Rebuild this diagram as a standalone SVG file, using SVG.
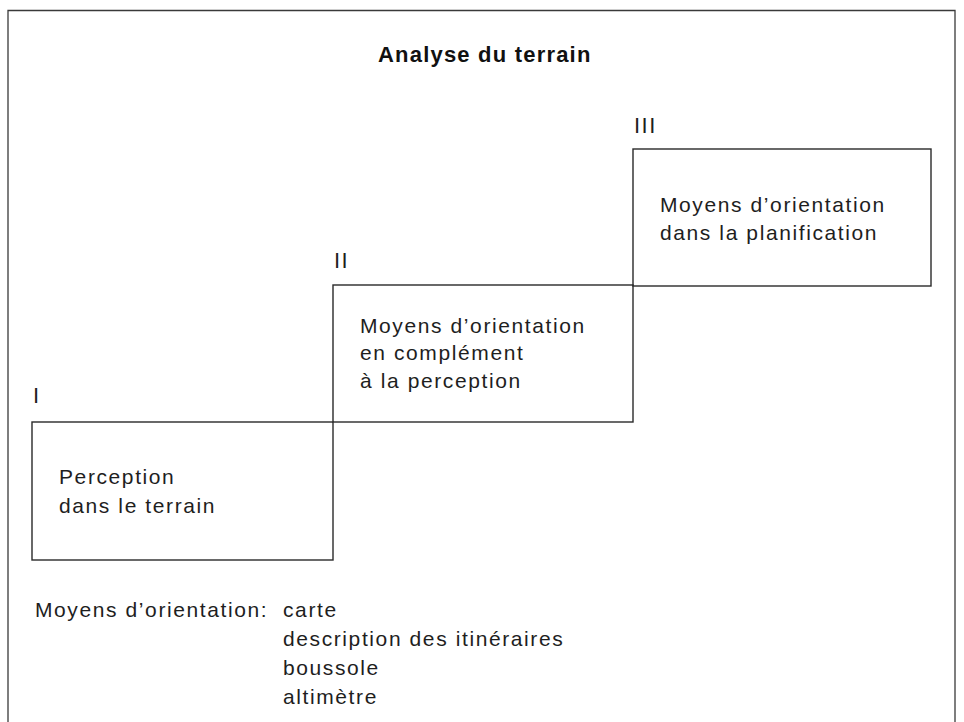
<svg xmlns="http://www.w3.org/2000/svg" width="964" height="722" viewBox="0 0 964 722">
<style>
.frame{fill:none;stroke:#3a3a3a;stroke-width:1.3}
.box{fill:none;stroke:#2a2a2a;stroke-width:1.4}
.t{font-family:"Liberation Sans",Arial,sans-serif;font-size:21px;letter-spacing:1.6px;fill:#1e1e1e}
.num{font-family:"Liberation Sans",Arial,sans-serif;font-size:22px;letter-spacing:1.5px;fill:#1e1e1e}
.title{font-family:"Liberation Sans",Arial,sans-serif;font-size:22px;font-weight:bold;letter-spacing:1.2px;fill:#111}
</style>
<rect width="964" height="722" fill="#ffffff"/>
<path class="frame" d="M8,730 V10.5 H955 V730"/>
<text class="title" x="378" y="62">Analyse du terrain</text>
<g id="connectors"/>
<g id="node-I">
<rect class="box" x="32" y="422" width="301" height="138"/>
<text class="num" x="33" y="403">I</text>
<text class="t" x="59" y="484">Perception</text>
<text class="t" x="59" y="513">dans le terrain</text>
</g>
<g id="node-II">
<rect class="box" x="333" y="285" width="300" height="137"/>
<text class="num" x="334" y="268">II</text>
<text class="t" x="360" y="333">Moyens d’orientation</text>
<text class="t" x="360" y="360">en complément</text>
<text class="t" x="360" y="388">à la perception</text>
</g>
<g id="node-III">
<rect class="box" x="633" y="149" width="298" height="137"/>
<text class="num" x="634" y="133">III</text>
<text class="t" x="660" y="212">Moyens d’orientation</text>
<text class="t" x="660" y="240">dans la planification</text>
</g>
<g id="legend">
<text class="t" x="35" y="617">Moyens d’orientation:</text>
<text class="t" x="283" y="617">carte</text>
<text class="t" x="283" y="646">description des itinéraires</text>
<text class="t" x="283" y="675">boussole</text>
<text class="t" x="283" y="704">altimètre</text>
</g>
</svg>
